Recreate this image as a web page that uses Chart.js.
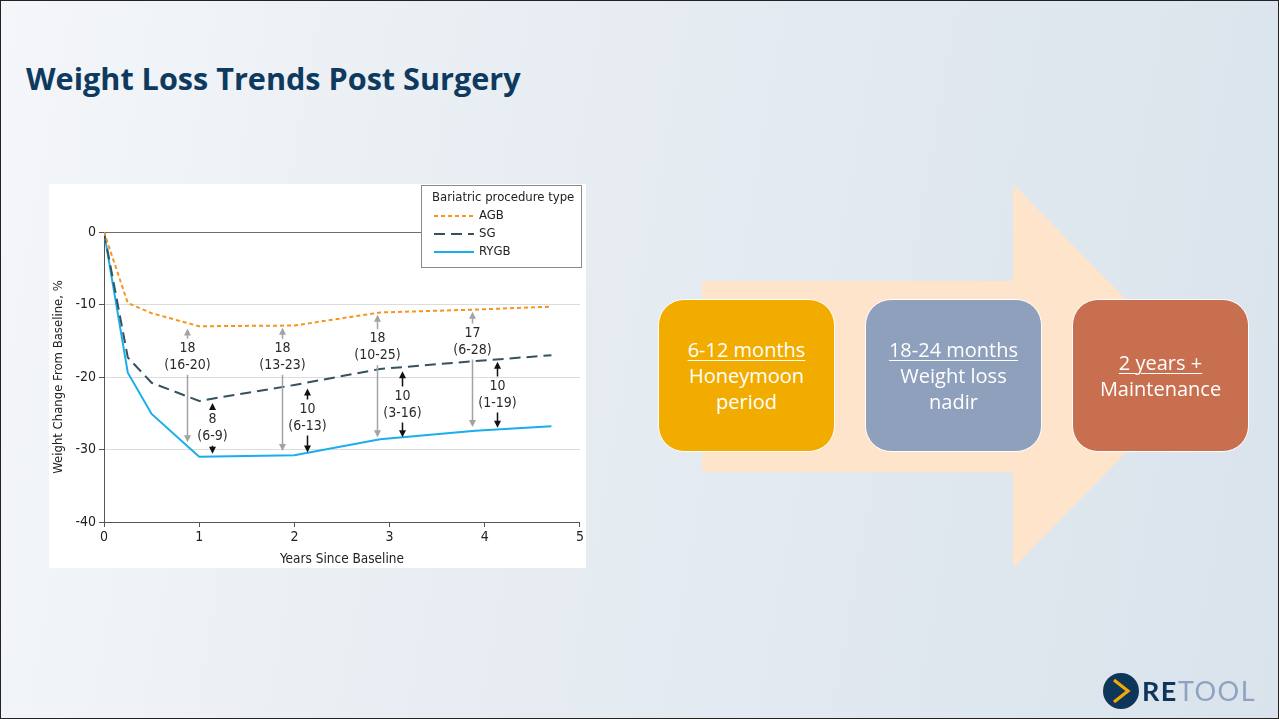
<!DOCTYPE html>
<html>
<head>
<meta charset="utf-8">
<title>Weight Loss Trends Post Surgery</title>
<script src="https://cdn.jsdelivr.net/npm/chart.js@4.4.1/dist/chart.umd.min.js"></script>
<style>
  html, body { margin: 0; padding: 0; }
  body { width: 1279px; height: 719px; overflow: hidden; }
  .slide {
    position: relative; width: 1279px; height: 719px; box-sizing: border-box;
    border: 1px solid #222;
    background: linear-gradient(100deg, #f4f6f9 0%, #e6ecf2 45%, #dae3ec 100%);
    font-family: "Open Sans", Lato, sans-serif;
  }
  h1 {
    position: absolute; left: 25px; top: 56px; margin: 0;
    font-size: 30.6px; font-weight: 700; color: #0f3a5f; letter-spacing: 0;
  }
  .panel { position: absolute; left: 48px; top: 183px; width: 537px; height: 384px; background: #fff; }
  .flow { position: absolute; left: 0; top: 0; }
  .step {
    position: absolute; top: 298px; width: 177px; height: 153px; box-sizing: border-box;
    border: 1.5px solid #fff; border-radius: 26px; color: #fff;
    display: flex; flex-direction: column; justify-content: center; align-items: center;
    font-size: 20px; line-height: 26px; text-align: center;
  }
  .step u { text-underline-offset: 3px; text-decoration-thickness: 1px; }
  .logo { position: absolute; left: 1102px; top: 672px; height: 36px; }
  .logo .mark { position: absolute; left: 0; top: 0; }
  .logo .word { position: absolute; left: 39px; top: 1px; font-family: Lato, sans-serif; font-size: 27px; font-weight: 700; letter-spacing: 1.5px; line-height: 34px; white-space: nowrap; }
  .logo .re { color: #0e365a; }
  .logo .tool { color: #8ea3c0; font-weight: 400; }
</style>
</head>
<body>
<div class="slide">
  <h1>Weight Loss Trends Post Surgery</h1>

  <div class="panel"><canvas id="weightChart"></canvas></div>

  <svg class="flow" width="1279" height="719">
    <polygon points="701,280 1012,280 1012,183 1200,375 1012,567 1012,471 701,471" fill="#fde4cb"/>
  </svg>
  <div class="step" style="left:657px;background:#f2ac00"><u>6-12 months</u>Honeymoon<br>period</div>
  <div class="step" style="left:864px;background:#8ea0bb"><u>18-24 months</u>Weight loss<br>nadir</div>
  <div class="step" style="left:1071px;background:#c86f4f"><u>2 years +</u>Maintenance</div>

  <div class="logo">
    <svg class="mark" width="36" height="36">
      <circle cx="18" cy="18" r="18" fill="#0e365a"/>
      <polyline points="11,7 25,18 11,29" fill="none" stroke="#f2a900" stroke-width="3.2"/>
    </svg>
    <div class="word"><span class="re">RE</span><span class="tool">TOOL</span></div>
  </div>
</div>

<script>
// years since baseline for each measured point
const years = [0, 0.25, 0.5, 1, 2, 2.9, 3.9, 4.7];
const agb  = [0, -9.8, -11.2, -13.0, -12.9, -11.1, -10.7, -10.3];
const sg   = [0, -17.3, -20.8, -23.3, -21.1, -18.9, -17.8, -17.0];
const rygb = [0, -19.4, -25.1, -31.0, -30.8, -28.6, -27.4, -26.8];

const yTicks = [0, -10, -20, -30, -40];
const xTicks = [0, 1, 2, 3, 4, 5];

// between-group differences: gray = AGB vs RYGB, black = SG vs RYGB
const grayX = [0.87, 1.87, 2.87, 3.87];
const grayTop = [-13.3, -13.2, -11.4, -11.0];
const grayBottom = [-29.0, -30.2, -28.3, -26.9];
const grayMid = [-17.2, -17.2, -15.9, -15.1];
const grayLabels = [['18', '(16-20)'], ['18', '(13-23)'], ['18', '(10-25)'], ['17', '(6-28)']];

const blackX = [1.13, 2.13, 3.13, 4.13];
const blackTop = [-23.6, -21.6, -19.2, -17.9];
const blackBottom = [-30.6, -30.4, -28.3, -27.0];
const blackMid = [-27.0, -25.6, -23.8, -22.4];
const blackLabels = [['8', '(6-9)'], ['10', '(6-13)'], ['10', '(3-16)'], ['10', '(1-19)']];

const FONT = '"DejaVu Sans Condensed", "Liberation Sans Narrow", "DejaVu Sans", sans-serif';

function pts(vals) {
  return years.map((x, i) => ({ x, y: vals[i] }));
}

function arrowHead(ctx, x, y, dir) {
  ctx.beginPath();
  ctx.moveTo(x, y);
  ctx.lineTo(x - 3.5, y - dir * 7);
  ctx.lineTo(x + 3.5, y - dir * 7);
  ctx.closePath();
  ctx.fill();
}

const diffArrows = {
  id: 'diffArrows',
  afterDatasetsDraw(chart) {
    const { ctx, scales: { x, y } } = chart;
    const groups = [
      { xs: grayX, top: grayTop, bot: grayBottom, mid: grayMid, labels: grayLabels, color: '#a3a3a3' },
      { xs: blackX, top: blackTop, bot: blackBottom, mid: blackMid, labels: blackLabels, color: '#111' }
    ];
    ctx.save();
    ctx.font = '14px ' + FONT;
    ctx.textAlign = 'center';
    ctx.textBaseline = 'middle';
    groups.forEach(g => {
      g.xs.forEach((v, i) => {
        const px = Math.round(x.getPixelForValue(v)) + 0.5;
        const t = y.getPixelForValue(g.top[i]);
        const b = y.getPixelForValue(g.bot[i]);
        const m = y.getPixelForValue(g.mid[i]);
        ctx.strokeStyle = g.color;
        ctx.fillStyle = g.color;
        ctx.lineWidth = 1.5;
        ctx.beginPath();
        ctx.moveTo(px, t + 5); ctx.lineTo(px, m - 18);
        ctx.moveTo(px, m + 18); ctx.lineTo(px, b - 5);
        ctx.stroke();
        arrowHead(ctx, px, t, -1);
        arrowHead(ctx, px, b, 1);
        ctx.fillStyle = '#2a2a2a';
        ctx.fillText(g.labels[i][0], px, m - 8.5);
        ctx.fillText(g.labels[i][1], px, m + 8.5);
      });
    });
    ctx.restore();
  }
};

// boxed legend sitting over the top-right corner of the plot
const boxLegend = {
  id: 'boxLegend',
  afterDraw(chart) {
    const ctx = chart.ctx;
    const bx = 372.5, by = 1.5, bw = 160, bh = 82;
    ctx.save();
    ctx.fillStyle = '#fff';
    ctx.fillRect(bx, by, bw, bh);
    ctx.strokeStyle = '#8a8a8a';
    ctx.lineWidth = 1;
    ctx.strokeRect(bx, by, bw, bh);
    ctx.font = '13px ' + FONT;
    ctx.fillStyle = '#222';
    ctx.textBaseline = 'middle';
    ctx.fillText('Bariatric procedure type', 383, 14);
    chart.data.datasets.forEach((ds, i) => {
      const ly = 32 + i * 18;
      ctx.strokeStyle = ds.borderColor;
      ctx.lineWidth = ds.borderWidth;
      ctx.setLineDash(ds.borderDash || []);
      ctx.beginPath();
      ctx.moveTo(385, ly); ctx.lineTo(425, ly);
      ctx.stroke();
      ctx.setLineDash([]);
      ctx.fillStyle = '#222';
      ctx.fillText(ds.label, 430, ly);
    });
    ctx.restore();
  }
};

new Chart(document.getElementById('weightChart'), {
  type: 'line',
  data: {
    datasets: [
      { label: 'AGB', data: pts(agb), borderColor: '#f7941d', borderWidth: 2, borderDash: [4, 3] },
      { label: 'SG', data: pts(sg), borderColor: '#35525e', borderWidth: 2, borderDash: [11, 6] },
      { label: 'RYGB', data: pts(rygb), borderColor: '#1aaeea', borderWidth: 2 }
    ]
  },
  options: {
    responsive: true,
    maintainAspectRatio: false,
    animation: false,
    elements: { point: { radius: 0 }, line: { tension: 0 } },
    layout: { padding: { top: 48, right: 4, left: 0, bottom: 0 } },
    plugins: { legend: { display: false }, tooltip: { enabled: false } },
    scales: {
      x: {
        type: 'linear', min: 0, max: 5,
        afterFit: s => { s.height = 46; },
        afterBuildTicks: s => { s.ticks = xTicks.map(v => ({ value: v })); },
        grid: { drawOnChartArea: false, tickLength: 5, tickColor: '#555' },
        border: { color: '#555' },
        ticks: { color: '#222', font: { family: FONT, size: 14 }, padding: 2 },
        title: { display: true, text: 'Years Since Baseline', color: '#222', font: { family: FONT, size: 13.5 }, padding: { top: 4, bottom: 0 } }
      },
      y: {
        min: -40, max: 0,
        afterFit: s => { s.width = 55; },
        afterBuildTicks: s => { s.ticks = yTicks.map(v => ({ value: v })); },
        grid: {
          color: c => (c.tick && c.tick.value === 0) ? '#6e6e6e' : '#dcdcdc',
          tickLength: 5, tickColor: '#555'
        },
        border: { color: '#555' },
        ticks: { color: '#222', font: { family: FONT, size: 14 }, padding: 3 },
        title: { display: true, text: 'Weight Change From Baseline, %', color: '#222', font: { family: FONT, size: 13 }, padding: { top: 2, bottom: 2 } }
      }
    }
  },
  plugins: [diffArrows, boxLegend]
});
</script>
</body>
</html>
